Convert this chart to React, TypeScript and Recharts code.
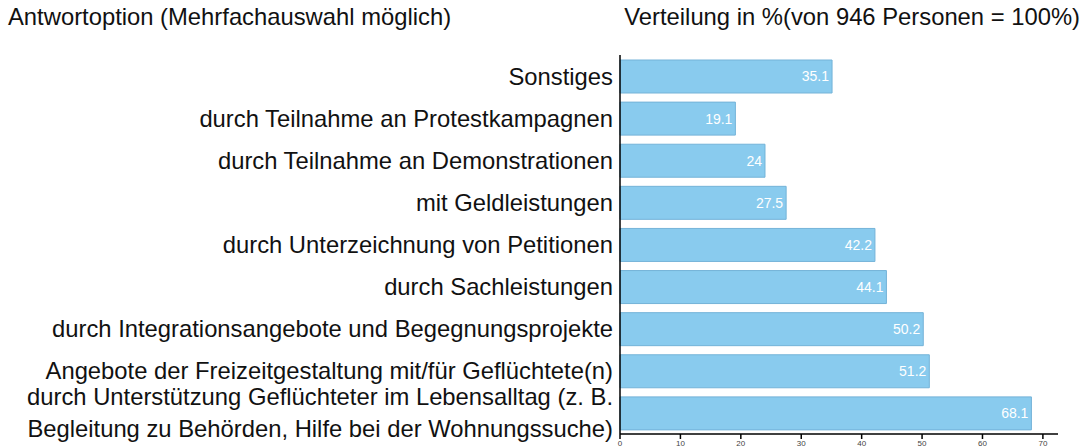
import React from "react";
import { BarChart, Bar, XAxis, YAxis, LabelList } from "recharts";

const categories: string[] = [
  "Sonstiges",
  "durch Teilnahme an Protestkampagnen",
  "durch Teilnahme an Demonstrationen",
  "mit Geldleistungen",
  "durch Unterzeichnung von Petitionen",
  "durch Sachleistungen",
  "durch Integrationsangebote und Begegnungsprojekte",
  "Angebote der Freizeitgestaltung mit/für Geflüchtete(n)",
  "durch Unterstützung Geflüchteter im Lebensalltag (z. B.\nBegleitung zu Behörden, Hilfe bei der Wohnungssuche)",
];
const values: number[] = [35.1, 19.1, 24, 27.5, 42.2, 44.1, 50.2, 51.2, 68.1];
const xTicks: number[] = [0, 10, 20, 30, 40, 50, 60, 70];

const data = categories.map((c, i) => ({ name: c, value: values[i] }));

const font = "'Liberation Sans', Arial, sans-serif";

const YTick = (props: any) => {
  const { x, y, payload } = props;
  const lines = String(payload.value).split("\n");
  const lh = 32;
  const start = -((lines.length - 1) * lh) / 2;
  return (
    <g>
      {lines.map((l, i) => (
        <text
          key={i}
          x={x + 1}
          y={y + start + i * lh}
          textAnchor="end"
          dominantBaseline="central"
          fontSize={23.8}
          fontFamily={font}
          fill="#111"
        >
          {l}
        </text>
      ))}
    </g>
  );
};

export default function App() {
  return (
    <div style={{ position: "absolute", left: 0, top: 0, width: 1084, height: 448, overflow: "hidden", fontFamily: font }}>
      <div style={{ position: "absolute", left: 8, top: 3, fontSize: 23.8, color: "#111", whiteSpace: "nowrap" }}>
        Antwortoption (Mehrfachauswahl möglich)
      </div>
      <div style={{ position: "absolute", right: 4, top: 3, fontSize: 23.8, color: "#111", whiteSpace: "nowrap" }}>
        Verteilung in %(von 946 Personen = 100%)
      </div>
      <BarChart
        width={1084}
        height={448}
        data={data}
        layout="vertical"
        margin={{ top: 55, right: 26, bottom: 0, left: 0 }}
      >
        <XAxis
          type="number"
          domain={[0, 72.5]}
          ticks={xTicks}
          height={14}
          tickSize={5}
          tickMargin={1}
          tick={{ fontSize: 8, fill: "#444", fontFamily: font }}
          stroke="#000"
          strokeWidth={1.5}
        />
        <YAxis
          type="category"
          dataKey="name"
          width={620}
          tick={<YTick />}
          tickLine={false}
          stroke="#000"
          strokeWidth={1.5}
          interval={0}
        />
        <Bar dataKey="value" fill="#89CBEE" stroke="#74B3D8" strokeWidth={1} barSize={33} isAnimationActive={false}>
          <LabelList
            dataKey="value"
            position="insideRight"
            fill="#fff"
            fontSize={14}
            fontFamily={font}
            offset={3}
          />
        </Bar>
      </BarChart>
    </div>
  );
}
